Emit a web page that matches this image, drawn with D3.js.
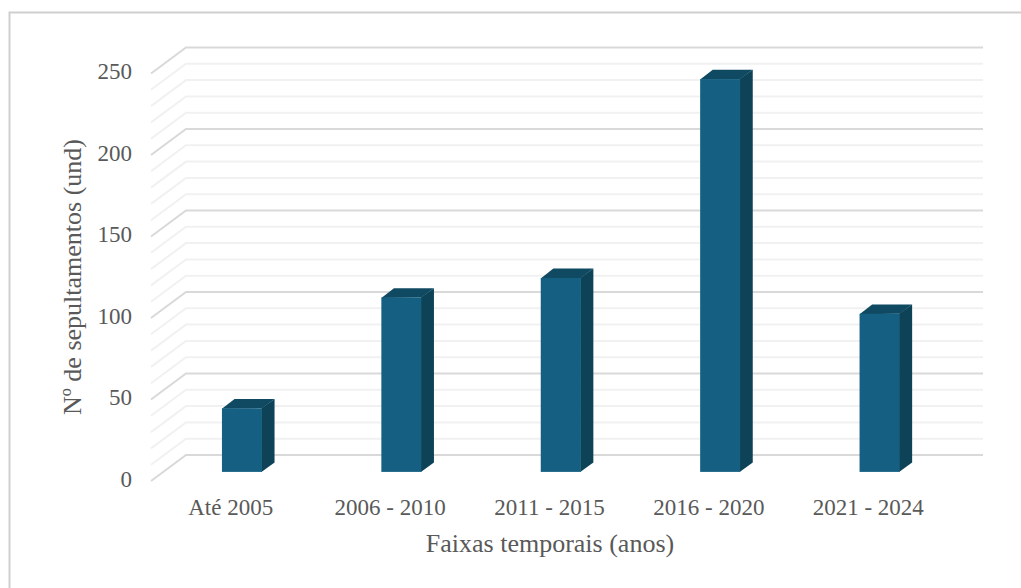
<!DOCTYPE html>
<html>
<head>
<meta charset="utf-8">
<script src="https://cdn.jsdelivr.net/npm/d3@7"></script>
<style>
  html, body { margin: 0; padding: 0; background: #fff; }
  text { font-family: "Liberation Serif", serif; fill: #595959; }
</style>
</head>
<body>
<svg id="chart"></svg>
<script>
const width = 1021;
const height = 588;

const categories = ["Até 2005", "2006 - 2010", "2011 - 2015", "2016 - 2020", "2021 - 2024"];
const sepultamentos = [39, 107, 119, 241, 97];
const majorTicks = [0, 50, 100, 150, 200, 250];
const minorTicks = [10, 20, 30, 40, 60, 70, 80, 90, 110, 120, 130, 140, 160, 170, 180, 190, 210, 220, 230, 240];

const svg = d3.select("#chart")
  .attr("width", width)
  .attr("height", height)
  .attr("viewBox", `0 0 ${width} ${height}`)
  .style("display", "block");

// outer frame, only the left and top edges are inside the picture
svg.append("path")
  .attr("d", `M9.5,${height}V12.5H${width}`)
  .attr("fill", "none")
  .attr("stroke", "#cfcfcf")
  .attr("stroke-width", 2);

// front plane of the 3D box, the back wall is offset by depth
const depthX = 35;
const depthY = -26;
const xScale = d3.scaleBand().domain(categories).range([151, 948]);
const yScale = d3.scaleLinear().domain([0, 250]).range([481, 73.5]);

const gridLine = (v) => {
  const y = yScale(v);
  return `M${xScale.range()[0]},${y}L${xScale.range()[0] + depthX},${y + depthY}H${xScale.range()[1] + depthX}`;
};

svg.append("g").selectAll("path")
  .data(minorTicks)
  .join("path")
  .attr("d", gridLine)
  .attr("fill", "none")
  .attr("stroke", "#f1f1f1")
  .attr("stroke-width", 2);

svg.append("g").selectAll("path")
  .data(majorTicks)
  .join("path")
  .attr("d", gridLine)
  .attr("fill", "none")
  .attr("stroke", "#d9d9d9")
  .attr("stroke-width", 2);

// bars sit inside the box: front face at 0.35 of the depth, back face at 0.71
const front = 0.35;
const back = 0.71;
const barWidth = 40;

const bars = svg.append("g").selectAll("g")
  .data(categories.map((c, i) => ({ c, v: sepultamentos[i] })))
  .join("g");

const barLeft = (d) => xScale(d.c) + xScale.bandwidth() / 2 - barWidth / 2 + depthX * front - 1;
const barBottom = yScale(0) + depthY * front;
const barTop = (d) => yScale(d.v) + depthY * front;
const sideX = depthX * (back - front);
const sideY = depthY * (back - front);

// side
bars.append("path")
  .attr("d", (d) => {
    const x = barLeft(d) + barWidth;
    return `M${x - 0.5},${barTop(d)}l${sideX + 0.5},${sideY}V${barBottom + sideY}l${-sideX - 0.5},${-sideY}Z`;
  })
  .attr("fill", "#0d4257");

// top
bars.append("path")
  .attr("d", (d) => {
    const x = barLeft(d);
    return `M${x},${barTop(d) + 0.5}l${sideX},${sideY - 0.5}h${barWidth}l${-sideX},${-sideY}Z`;
  })
  .attr("fill", "#0f4a62");

// front
bars.append("rect")
  .attr("x", barLeft)
  .attr("y", barTop)
  .attr("width", barWidth)
  .attr("height", (d) => barBottom - barTop(d))
  .attr("fill", "#156082");

// y tick labels
svg.append("g").selectAll("text")
  .data(majorTicks)
  .join("text")
  .attr("x", 132)
  .attr("y", (d) => yScale(d))
  .attr("dy", "0.26em")
  .attr("text-anchor", "end")
  .attr("font-size", 23)
  .text((d) => d);

// x tick labels
svg.append("g").selectAll("text")
  .data(categories)
  .join("text")
  .attr("x", (d) => xScale(d) + xScale.bandwidth() / 2)
  .attr("y", 515)
  .attr("text-anchor", "middle")
  .attr("font-size", 23)
  .text((d) => d);

// axis labels
svg.append("text")
  .attr("x", 550)
  .attr("y", 552)
  .attr("text-anchor", "middle")
  .attr("font-size", 26)
  .text("Faixas temporais (anos)");

svg.append("text")
  .attr("transform", "translate(81,277) rotate(-90)")
  .attr("text-anchor", "middle")
  .attr("font-size", 26)
  .text("Nº de sepultamentos (und)");
</script>
</body>
</html>
